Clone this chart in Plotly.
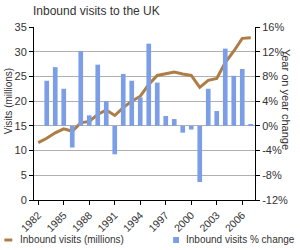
import plotly.graph_objects as go

years = list(range(1982, 2008))
visits = [11.6, 12.5, 13.6, 14.4, 13.9, 15.6, 15.9, 17.3, 18.2, 17.1, 18.7, 20.0, 21.0, 23.4,
          25.2, 25.5, 25.9, 25.5, 25.2, 22.8, 24.2, 24.6, 27.8, 30.1, 32.7, 32.8]
pct_years = list(range(1983, 2008))
pct_change = [7.3, 9.5, 6.0, -3.5, 12.1, 1.7, 9.9, 4.0, -4.6, 8.4, 7.3, 4.6, 13.3, 7.0,
              1.6, 1.1, -1.1, -0.6, -9.1, 6.0, 2.4, 12.5, 8.1, 9.2, 0.3]
x_ticks = list(range(1982, 2007, 3))
left_ticks = list(range(0, 36, 5))
right_ticks = list(range(-12, 17, 4))
right_labels = [f"{v}%" for v in right_ticks]

font = "Liberation Sans, Arial, sans-serif"
txt = "#333333"
BAR_C = "#7b9ee6"
LINE_C = "#ad7d45"
L, R, T, B = 34, 42, 27, 50
W = 300 - L - R
H = 250 - T - B


def px(x):
    return (x - L) / W


def py(y):
    return (250 - B - y) / H


fig = go.Figure()
bar = go.Bar(x=pct_years, y=pct_change, yaxis="y2", name="Inbound visits % change",
             marker=dict(color=BAR_C, line=dict(width=0)), width=0.55, showlegend=False)
line = go.Scatter(x=years, y=visits, mode="lines", name="Inbound visits (millions)",
                  line=dict(color=LINE_C, width=3), showlegend=False)
fig.add_trace(bar)
fig.add_trace(line)

legend_y = 240
shapes = [
    dict(type="line", xref="paper", yref="paper", x0=px(4), x1=px(12), y0=py(legend_y),
         y1=py(legend_y), line=dict(color=LINE_C, width=3)),
    dict(type="rect", xref="paper", yref="paper", x0=px(175), x1=px(181), y0=py(legend_y + 3),
         y1=py(legend_y - 3), line=dict(width=0), fillcolor=BAR_C),
]
annotations = [
    dict(text=line.name, xref="paper", yref="paper", x=px(18), y=py(legend_y),
         xanchor="left", yanchor="middle", showarrow=False, font=dict(size=10, color=txt)),
    dict(text=bar.name, xref="paper", yref="paper", x=px(186), y=py(legend_y),
         xanchor="left", yanchor="middle", showarrow=False, font=dict(size=10, color=txt)),
    dict(text="Year on year change", textangle=90, xref="paper", yref="paper",
         x=px(290), y=py(47), xanchor="center", yanchor="top", showarrow=False,
         font=dict(size=11, color=txt)),
    dict(text="Visits (millions)", textangle=-90, xref="paper", yref="paper",
         x=px(8), y=py(101), xanchor="center", yanchor="middle", showarrow=False,
         font=dict(size=10, color=txt)),
]

fig.update_layout(
    width=300, height=250,
    margin=dict(l=L, r=R, t=T, b=B),
    paper_bgcolor="white", plot_bgcolor="white",
    font=dict(family=font, size=11, color=txt),
    title=dict(text="Inbound visits to the UK", x=33/300, xanchor="left", y=1-11/250, yanchor="middle",
               font=dict(size=12, color=txt)),
    showlegend=False,
    xaxis=dict(range=[1981.5, 2007.5], tickvals=x_ticks, tickangle=-45, showgrid=False,
               showline=True, linecolor="black", linewidth=1, ticks="outside", ticklen=4,
               tickcolor="black", zeroline=False, tickfont=dict(size=10.5, color=txt)),
    yaxis=dict(range=[0, 35], tickvals=left_ticks, showgrid=True, gridcolor="#b0b0b0",
               showline=True, linecolor="black", linewidth=1, ticks="outside", ticklen=4,
               tickcolor="black", zeroline=False),
    yaxis2=dict(range=[-12, 16], tickvals=right_ticks, ticktext=right_labels, overlaying="y",
                side="right", showgrid=False, showline=True, linecolor="black", linewidth=1,
                ticks="outside", ticklen=4, tickcolor="black", zeroline=False),
    shapes=shapes,
    annotations=annotations,
)

fig.write_html("out.html")
